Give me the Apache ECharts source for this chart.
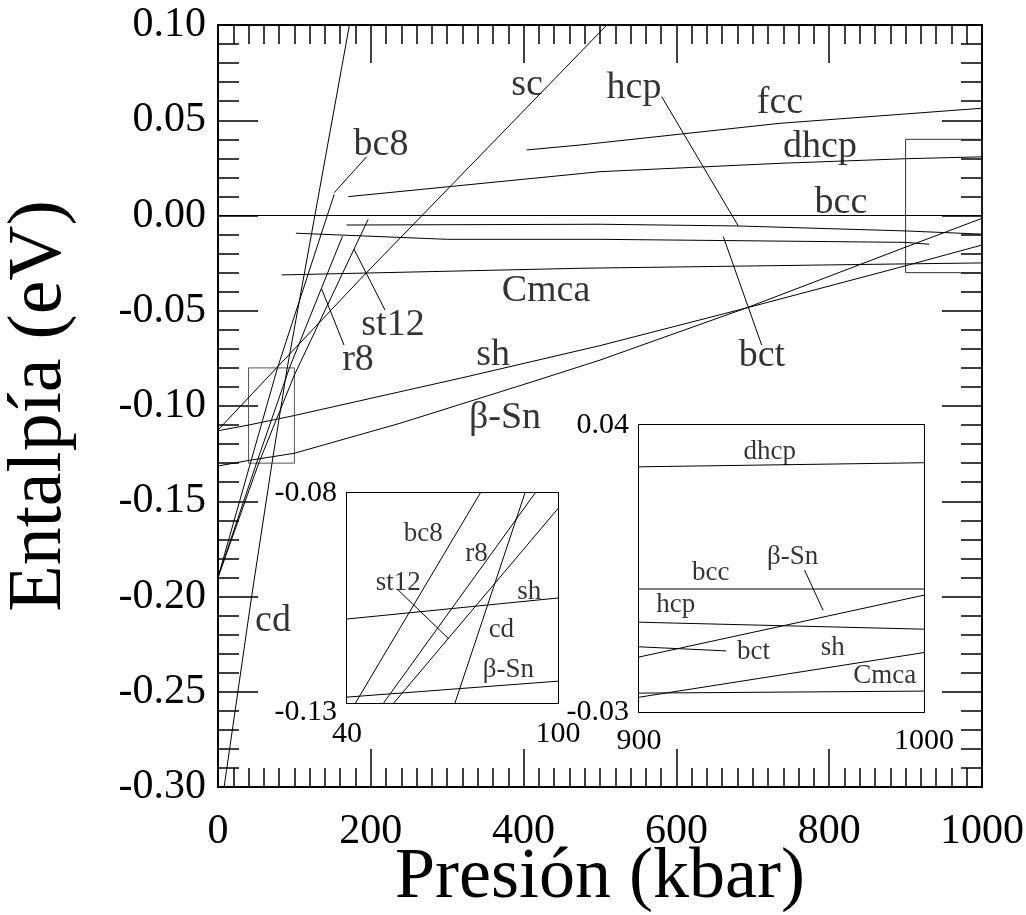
<!DOCTYPE html>
<html>
<head>
<meta charset="utf-8">
<script src="https://cdn.jsdelivr.net/npm/echarts@6/dist/echarts.min.js"></script>
<style>
  html, body { margin: 0; padding: 0; background: #fff; }
  #chart { width: 1026px; height: 915px; }
</style>
</head>
<body>
<div id="chart"></div>
<script>
// Enthalpy of each phase relative to bcc (eV) versus pressure (kbar): [pressure, enthalpy]
const bcc  = [[0, 0], [1000, 0]];
const cd   = [[8, -0.300], [44, -0.200], [70.7, -0.130], [90.6, -0.080], [172, 0.100]];
const bc8  = [[0, -0.190], [42.4, -0.130], [77.9, -0.080], [152, 0.011]];
const r8   = [[0, -0.190], [50.4, -0.130], [93.5, -0.080], [135.6, -0.038], [163, -0.0108]];
const st12 = [[0, -0.190], [53.3, -0.130], [100, -0.0837], [178, -0.0177], [196.6, -0.002]];
const sc   = [[0, -0.1126], [186, -0.0335], [509, 0.100]];
const sh   = [[0, -0.1130], [40, -0.1100], [100, -0.1050], [326, -0.0846], [500, -0.0683], [691, -0.0486], [900, -0.0264], [1000, -0.0155]];
const bSn  = [[0, -0.1315], [40, -0.1286], [100, -0.1248], [238, -0.1091], [412, -0.0872], [500, -0.0759], [691, -0.0486], [900, -0.0166], [1000, -0.0015]];
const Cmca = [[83.4, -0.0312], [474, -0.0277], [900, -0.0254], [1000, -0.0249]];
const hcp  = [[168.4, -0.0050], [500, -0.0046], [681, -0.0055], [900, -0.0081], [1000, -0.0098]];
const bct  = [[102, -0.0093], [300, -0.0125], [500, -0.0125], [900, -0.0141], [930.6, -0.0151]];
const dhcp = [[170.6, 0.0099], [500, 0.0230], [735.6, 0.0274], [900, 0.0298], [1000, 0.0308]];
const fcc  = [[404, 0.0344], [474, 0.0370], [735.6, 0.0484], [1000, 0.0563]];

// Axis ranges and tick labels
const mainX = { min: 0, max: 1000, step: 200 };
const mainY = { min: -0.30, max: 0.10, step: 0.05 };
const zoomA = { xmin: 40, xmax: 100, xstep: 10, ymin: -0.13, ymax: -0.08, ystep: 0.01 };
const zoomB = { xmin: 900, xmax: 1000, xstep: 10, ymin: -0.03, ymax: 0.04, ystep: 0.01 };
const zoomAXLabels = [40, 100];
const zoomAYLabels = [-0.13, -0.08];
const zoomBXLabels = [900, 1000];
const zoomBYLabels = [-0.03, 0.04];

// Which phases each panel draws
const mainCurves  = [bcc, cd, bc8, r8, st12, sc, sh, bSn, Cmca, hcp, bct, dhcp, fcc];
const zoomACurves = [cd, bc8, r8, st12, sh, bSn];
const zoomBCurves = [bcc, sh, bSn, Cmca, hcp, bct, dhcp];

// Phase names with where they are written, and leader lines (data units)
const mainNames = [
  ['sc', 404.5, 0.0685], ['hcp', 544.5, 0.0669], ['fcc', 735.6, 0.0591], ['dhcp', 788, 0.0360],
  ['bcc', 815.4, 0.0066], ['bc8', 213.4, 0.0370], ['Cmca', 429.3, -0.0396], ['st12', 229, -0.0575],
  ['r8', 183.2, -0.0759], ['sh', 360, -0.0732], ['β-Sn', 375.7, -0.1063], ['bct', 712, -0.0738],
  ['cd', 72, -0.2129]
];
const mainLeaders = [
  [[580.7, 0.0624], [681, -0.0055]],
  [[194.6, 0.0309], [152.2, 0.0120]],
  [[178, -0.0177], [218.6, -0.0496]],
  [[135.7, -0.0386], [164.9, -0.0680]],
  [[661.4, -0.0111], [711.6, -0.0680]]
];
const zoomANames = [
  ['bc8', 61.7, -0.0898], ['r8', 76.8, -0.0944], ['st12', 54.6, -0.1013],
  ['sh', 91.8, -0.1036], ['cd', 83.9, -0.1127], ['β-Sn', 85.9, -0.1222]
];
const zoomALeaders = [[[54.2, -0.1028], [68.9, -0.1147]]];
const zoomBNames = [
  ['dhcp', 945.9, 0.0334], ['bcc', 925.2, 0.0039], ['β-Sn', 953.9, 0.0078], ['hcp', 912.9, -0.0039],
  ['bct', 940.2, -0.0154], ['sh', 968, -0.0144], ['Cmca', 986.2, -0.0213]
];
const zoomBLeaders = [[[958.1, 0.0046], [964.6, -0.0052]]];

const FONT = 'Liberation Serif';
const BLACK = '#000';

function fmt2(v) { return v.toFixed(2); }
function fmtInt(v) { return String(Math.round(v)); }

function axisPair(kind, gridIndex, r, opts) {
  // kind: 'x' or 'y'; returns [labelled axis, mirrored axis]
  const base = {
    type: 'value', gridIndex: gridIndex, min: r.min, max: r.max, interval: r.step,
    splitLine: { show: false },
    axisLine: { show: true, onZero: false, lineStyle: { color: BLACK, width: opts.lineWidth } },
    axisTick: { show: true, inside: true, length: opts.tick, lineStyle: { color: BLACK, width: 1.5 } },
    minorTick: opts.minor ? { show: true, splitNumber: opts.minor, length: opts.minorLen, lineStyle: { color: BLACK, width: 1.5 } } : { show: false },
    minorSplitLine: { show: false }
  };
  const a = Object.assign({}, base, {
    position: kind === 'x' ? 'bottom' : 'left',
    axisLabel: Object.assign({ show: true, color: BLACK, fontFamily: FONT, fontSize: opts.fontSize, margin: opts.margin }, opts.label || {})
  }, opts.name || {});
  const b = Object.assign({}, base, {
    position: kind === 'x' ? 'top' : 'right',
    axisLabel: { show: false }
  });
  return [a, b];
}

const xAxes = [].concat(
  axisPair('x', 0, mainX, {
    lineWidth: 2, tick: 38, minor: 10, minorLen: 19, fontSize: 42, margin: 24,
    label: { formatter: fmtInt },
    name: { name: 'Presión (kbar)', nameLocation: 'middle', nameGap: 55, nameMoveOverlap: false,
            nameTextStyle: { fontFamily: FONT, fontSize: 72, color: BLACK } }
  }),
  axisPair('x', 1, { min: zoomA.xmin, max: zoomA.xmax, step: zoomA.xstep }, {
    lineWidth: 2, tick: 14, fontSize: 30, margin: 16,
    label: { customValues: zoomAXLabels, formatter: fmtInt }
  }),
  axisPair('x', 2, { min: zoomB.xmin, max: zoomB.xmax, step: zoomB.xstep }, {
    lineWidth: 2, tick: 10, fontSize: 30, margin: 14,
    label: { customValues: zoomBXLabels, formatter: fmtInt }
  })
);

const yAxes = [].concat(
  axisPair('y', 0, mainY, {
    lineWidth: 2, tick: 40, minor: 5, minorLen: 21, fontSize: 42, margin: 12,
    label: { formatter: fmt2 },
    name: { name: 'Entalpía (eV)', nameLocation: 'middle', nameGap: 140, nameMoveOverlap: false,
            nameTextStyle: { fontFamily: FONT, fontSize: 76, color: BLACK } }
  }),
  axisPair('y', 1, { min: zoomA.ymin, max: zoomA.ymax, step: zoomA.ystep }, {
    lineWidth: 2, tick: 17, fontSize: 30, margin: 10,
    label: {
      customValues: zoomAYLabels,
      formatter: function (v) { return v < -0.1 ? '{lo|' + fmt2(v) + '}' : fmt2(v); },
      rich: { lo: { fontFamily: FONT, fontSize: 30, color: BLACK, padding: [18, 0, 0, 0] } }
    }
  }),
  axisPair('y', 2, { min: zoomB.ymin, max: zoomB.ymax, step: zoomB.ystep }, {
    lineWidth: 2, tick: 11, fontSize: 30, margin: 10,
    label: { customValues: zoomBYLabels, formatter: fmt2 }
  })
);

const series = [];

function addCurves(list, axisIndex) {
  list.forEach(function (pts) {
    series.push({
      type: 'line', data: pts, xAxisIndex: axisIndex, yAxisIndex: axisIndex,
      showSymbol: false, symbol: 'none', clip: true, silent: true, animation: false,
      lineStyle: { color: BLACK, width: 1 }, z: 3
    });
  });
}
function addNames(list, axisIndex, size) {
  series.push({
    type: 'scatter', xAxisIndex: axisIndex, yAxisIndex: axisIndex, silent: true, animation: false,
    symbolSize: 1, itemStyle: { color: 'rgba(0,0,0,0)' }, z: 5,
    data: list.map(function (d) { return { name: d[0], value: [d[1], d[2]] }; }),
    label: { show: true, position: 'inside', formatter: '{b}', color: BLACK, fontFamily: FONT, fontSize: size }
  });
}
function addLeaders(list, axisIndex) {
  list.forEach(function (seg) {
    series.push({
      type: 'line', data: seg, xAxisIndex: axisIndex, yAxisIndex: axisIndex,
      symbol: 'none', silent: true, animation: false, clip: false,
      lineStyle: { color: BLACK, width: 1 }, z: 4
    });
  });
}
function addFrame(r, color) {
  series.push({
    type: 'line', xAxisIndex: 0, yAxisIndex: 0, symbol: 'none', silent: true, animation: false,
    lineStyle: { color: color, width: 1 }, z: 2,
    data: [[r.xmin, r.ymax], [r.xmax, r.ymax], [r.xmax, r.ymin], [r.xmin, r.ymin], [r.xmin, r.ymax]]
  });
}

addCurves(mainCurves, 0);
addCurves(zoomACurves, 2);
addCurves(zoomBCurves, 4);
addFrame(zoomA, '#555');
addFrame(zoomB, '#333');
addNames(mainNames, 0, 38);
addNames(zoomANames, 2, 27);
addNames(zoomBNames, 4, 27);
addLeaders(mainLeaders, 0);
addLeaders(zoomALeaders, 2);
addLeaders(zoomBLeaders, 4);

const chart = echarts.init(document.getElementById('chart'), null, { renderer: 'canvas' });
chart.setOption({
  backgroundColor: '#fff',
  animation: false,
  grid: [
    { left: 218, top: 25, width: 764, height: 762, outerBoundsMode: 'none' },
    { left: 347, top: 493, width: 211, height: 210, outerBoundsMode: 'none', show: true, backgroundColor: '#fff', borderWidth: 0, z: 1 },
    { left: 639, top: 425, width: 285, height: 287, outerBoundsMode: 'none', show: true, backgroundColor: '#fff', borderWidth: 0, z: 1 }
  ],
  xAxis: xAxes,
  yAxis: yAxes,
  series: series
});
</script>
</body>
</html>
